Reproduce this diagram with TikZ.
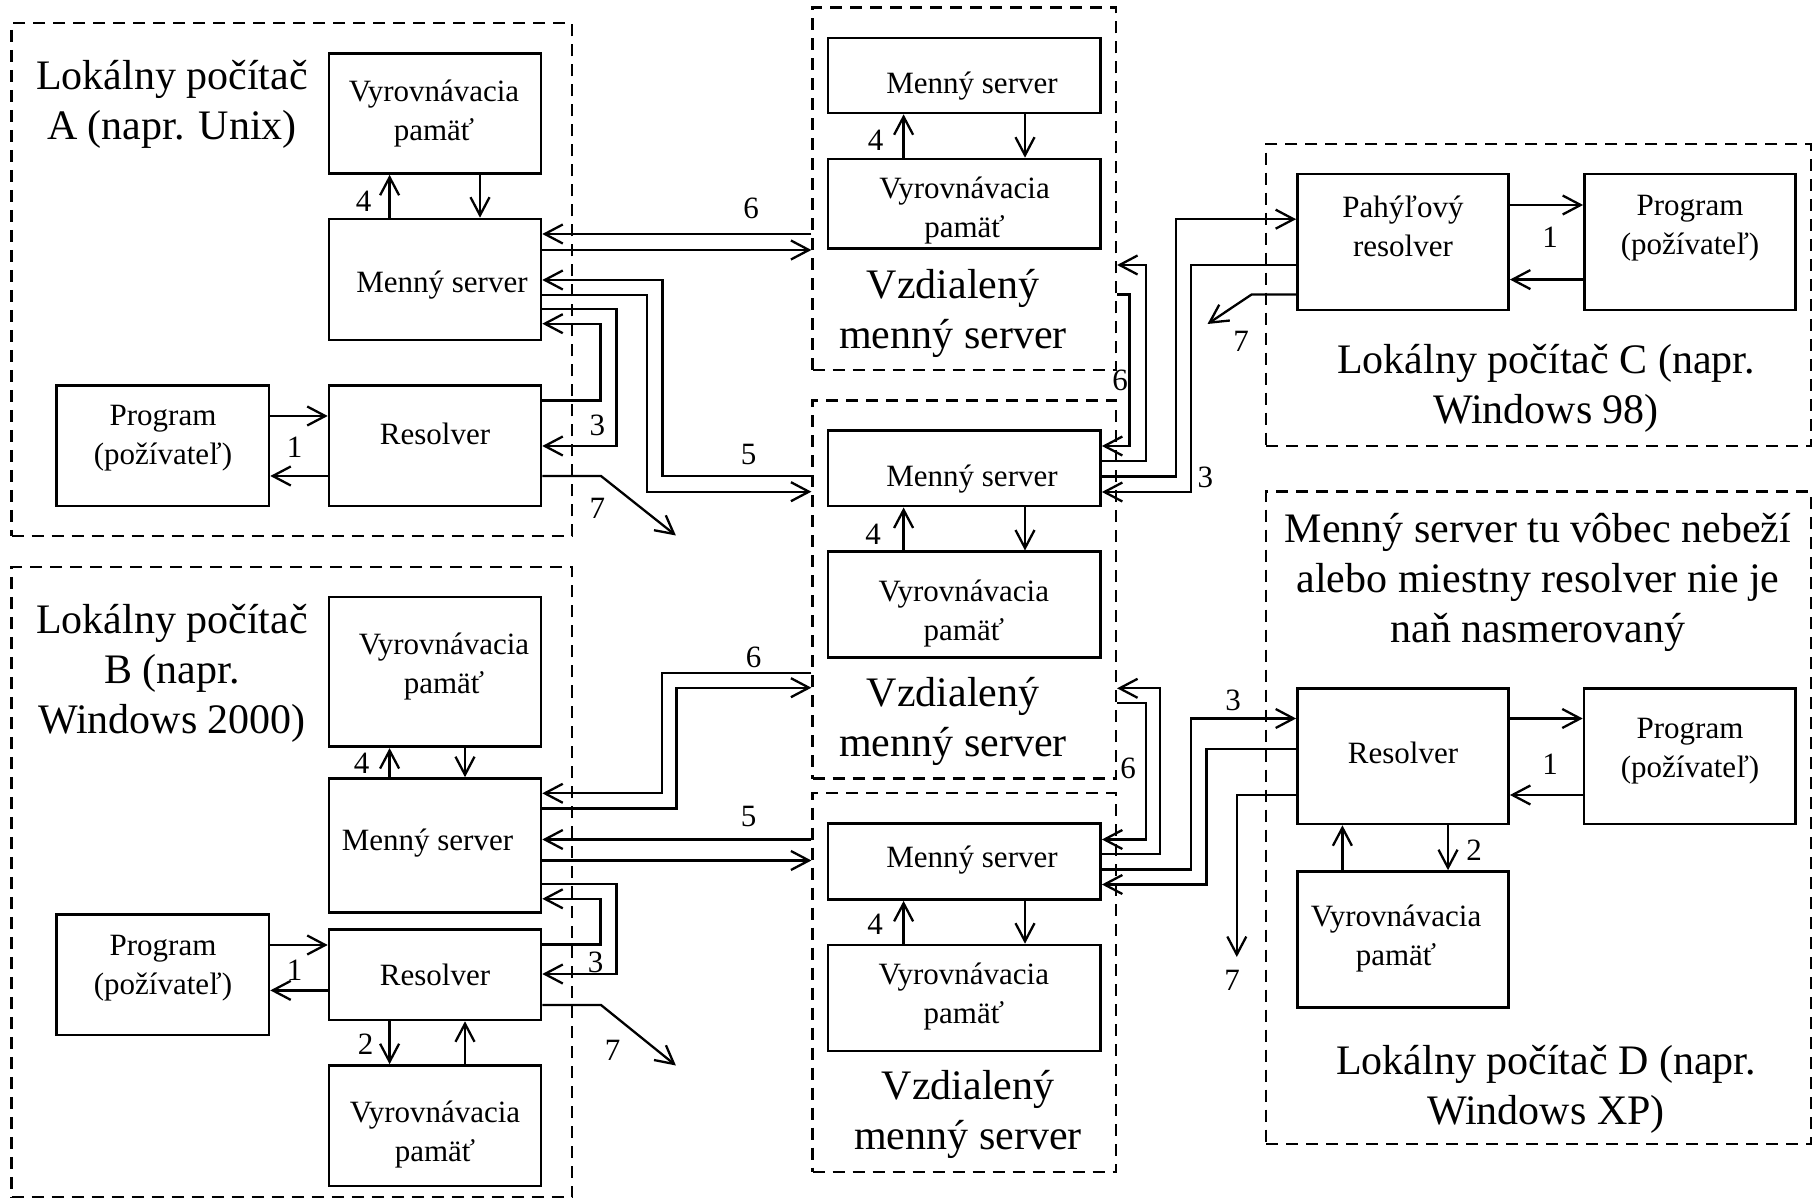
\documentclass[tikz,border=0pt]{standalone}
\usepackage{fontspec}
\setmainfont{Liberation Serif}
\usetikzlibrary{arrows.meta,fit}
\begin{document}
\begin{tikzpicture}[x=0.5pt,y=-0.5pt,
  box/.style={draw,line width=1.3pt,inner sep=0pt},
  grp/.style={draw,line width=1.1pt,dash pattern=on 6pt off 4pt,inner sep=0pt},
  arr/.style={line width=1.15pt,-{Straight Barb[length=9pt,width=9.5pt]}},
  small/.style={font=\fontsize{15.5pt}{19.5pt}\selectfont,align=center,inner sep=0pt},
  big/.style={font=\fontsize{21pt}{25pt}\selectfont,align=center,inner sep=0pt},
  num/.style={font=\fontsize{15.5pt}{18pt}\selectfont,inner sep=0pt},
]
\useasboundingbox (0,0) rectangle (1820,1202);

% ---------- dashed groups ----------
\node[grp,fit={(11.5,23.4) (572,536)}] (A) {};
\node[grp,fit={(11.5,567.4) (572,1197)}] (B) {};
\node[grp,fit={(812.5,7.6) (1116,370)}] (R1) {};
\node[grp,fit={(812.5,400.5) (1116,778.5)}] (R2) {};
\node[grp,fit={(812.5,793.3) (1116,1172)}] (R3) {};
\node[grp,fit={(1266,144) (1810.7,446)}] (C) {};
\node[grp,fit={(1266,491.5) (1810.7,1144)}] (D) {};

% ---------- computer A ----------
\node[box,fit={(329,53.4) (541,173.5)}] (cacheA) {};
\node[box,fit={(329,219) (541,340)}] (nsA) {};
\node[box,fit={(56.6,385.7) (269,506.2)}] (progA) {};
\node[box,fit={(329,385.7) (541,506.2)}] (resA) {};
\node[big] (titleA) at (172,104.75) {Lokálny počítač\\A (napr. Unix)};
\node[small] (tcacheA) at (434,114) {Vyrovnávacia\\pamäť};
\node[small,anchor=base] (tnsA) at (442,293) {Menný server};
\node[small] (tprogA) at (163,438) {Program\\(požívateľ)};
\node[small,anchor=base] (tresA) at (435,445) {Resolver};
\node[num] (n4A) at (363.6,201) {4};
\node[num] (n1A) at (294.7,447) {1};
\node[num] (n6A) at (751,208) {6};
\node[num] (n5A) at (748.6,454.5) {5};
\node[num] (n3A) at (597.4,425) {3};
\node[num] (n7A) at (597.4,508) {7};
\coordinate (end7A) at (675.9,535.5);

\draw[arr] (389.6,0 |- nsA.north) -- (389.6,0 |- cacheA.south);
\draw[arr] (480,0 |- cacheA.south) -- (480,0 |- nsA.north);
\draw[arr] (progA.east |- 0,416) -- (resA.west |- 0,416);
\draw[arr] (resA.west |- 0,476) -- (progA.east |- 0,476);
\draw[arr] (R1.west |- 0,234) -- (nsA.east |- 0,234);
\draw[arr] (nsA.east |- 0,250) -- (R1.west |- 0,250);
\draw[arr] (R2.west |- 0,476) -| (662.5,280) -- (nsA.east |- 0,280);
\draw[arr] (nsA.east |- 0,295) -| (647,491.7) -- (R2.west |- 0,491.7);
\draw[arr] (nsA.east |- 0,309) -| (616.5,446) -- (resA.east |- 0,446);
\draw[arr] (resA.east |- 0,400.5) -| (600.5,323.7) -- (nsA.east |- 0,323.7);
\draw[arr] (resA.east |- 0,476) -- (601,476) -- (end7A);

% ---------- remote name server 1 ----------
\node[box,fit={(827.8,37.9) (1100.6,113)}] (nsR1) {};
\node[box,fit={(827.8,159) (1100.6,248.6)}] (cacheR1) {};
\node[small,anchor=base] (tnsR1) at (972,93.7) {Menný server};
\node[small] (tcacheR1) at (964.5,210.5) {Vyrovnávacia\\pamäť};
\node[big] (titleR1) at (953,313.7) {Vzdialený\\menný server};
\node[num] (n4R1) at (875.5,140.5) {4};
\draw[arr] (903.6,0 |- cacheR1.north) -- (903.6,0 |- nsR1.south);
\draw[arr] (1025,0 |- nsR1.south) -- (1025,0 |- cacheR1.north);

% ---------- remote name server 2 ----------
\node[box,fit={(827.8,430.4) (1100.6,506.2)}] (nsR2) {};
\node[box,fit={(827.8,551.8) (1100.6,657.3)}] (cacheR2) {};
\node[small,anchor=base] (tnsR2) at (972,487) {Menný server};
\node[small] (tcacheR2) at (963.8,614) {Vyrovnávacia\\pamäť};
\node[big] (titleR2) at (953,721) {Vzdialený\\menný server};
\node[num] (n4R2) at (873,534) {4};
\draw[arr] (903.6,0 |- cacheR2.north) -- (903.6,0 |- nsR2.south);
\draw[arr] (1025,0 |- nsR2.south) -- (1025,0 |- cacheR2.north);

% ---------- remote name server 3 ----------
\node[box,fit={(827.8,823.7) (1100.6,899.6)}] (nsR3) {};
\node[box,fit={(827.8,945) (1100.6,1050.8)}] (cacheR3) {};
\node[small,anchor=base] (tnsR3) at (972,867) {Menný server};
\node[small] (tcacheR3) at (963.8,997) {Vyrovnávacia\\pamäť};
\node[big] (titleR3) at (968,1114.5) {Vzdialený\\menný server};
\node[num] (n4R3) at (875,924.5) {4};
\draw[arr] (903.6,0 |- cacheR3.north) -- (903.6,0 |- nsR3.south);
\draw[arr] (1025,0 |- nsR3.south) -- (1025,0 |- cacheR3.north);

% ---------- computer B ----------
\node[box,fit={(329,597) (541,746.8)}] (cacheB) {};
\node[box,fit={(329,778.5) (541,912.3)}] (nsB) {};
\node[box,fit={(56.6,914.4) (269,1035)}] (progB) {};
\node[box,fit={(329,929.2) (541,1020)}] (resB) {};
\node[box,fit={(329,1065.5) (541,1185.8)}] (cacheB2) {};
\node[big] (titleB) at (172,673.5) {Lokálny počítač\\B (napr.\\Windows 2000)};
\node[small] (tcacheB) at (444,666.5) {Vyrovnávacia\\pamäť};
\node[small,anchor=base] (tnsB) at (427.5,850) {Menný server};
\node[small] (tprogB) at (163,967.8) {Program\\(požívateľ)};
\node[small,anchor=base] (tresB) at (435,985) {Resolver};
\node[small] (tcacheB2) at (435,1134.5) {Vyrovnávacia\\pamäť};
\node[num] (n4B) at (361.6,763) {4};
\node[num] (n1B) at (294.7,970.6) {1};
\node[num] (n2B) at (365.5,1044.4) {2};
\node[num] (n6B) at (753.5,657.3) {6};
\node[num] (n5B) at (748.6,816.5) {5};
\node[num] (n3B) at (595.5,962) {3};
\node[num] (n7B) at (612.7,1050.8) {7};
\coordinate (end7B) at (675.9,1065.5);

\draw[arr] (389.6,0 |- nsB.north) -- (389.6,0 |- cacheB.south);
\draw[arr] (465,0 |- cacheB.south) -- (465,0 |- nsB.north);
\draw[arr] (progB.east |- 0,945) -- (resB.west |- 0,945);
\draw[arr] (resB.west |- 0,990.4) -- (progB.east |- 0,990.4);
\draw[arr] (389.6,0 |- resB.south) -- (389.6,0 |- cacheB2.north);
\draw[arr] (465,0 |- cacheB2.north) -- (465,0 |- resB.south);
\draw[arr] (R2.west |- 0,673) -| (661.7,793.3) -- (nsB.east |- 0,793.3);
\draw[arr] (nsB.east |- 0,808.5) -| (676.6,687.7) -- (R2.west |- 0,687.7);
\draw[arr] (R3.west |- 0,839.5) -- (nsB.east |- 0,839.5);
\draw[arr] (nsB.east |- 0,860.5) -- (R3.west |- 0,860.5);
\draw[arr] (nsB.east |- 0,884) -| (616.5,974) -- (resB.east |- 0,974);
\draw[arr] (resB.east |- 0,944.4) -| (600.5,898.8) -- (nsB.east |- 0,898.8);
\draw[arr] (resB.east |- 0,1005) -- (601,1005) -- (end7B);

% ---------- computer C ----------
\node[box,fit={(1297.4,174) (1508.6,310)}] (stub) {};
\node[box,fit={(1584.4,174) (1795.6,310)}] (progC) {};
\node[small] (tstub) at (1403,226) {Pahýľový\\resolver};
\node[small] (tprogC) at (1690,228) {Program\\(požívateľ)};
\node[big] (titleC) at (1546,388.6) {Lokálny počítač C (napr.\\Windows 98)};
\node[num] (n1C) at (1550,237.6) {1};
\node[num] (n7C) at (1241,341.5) {7};
\node[num] (n3C) at (1205.3,477) {3};
\node[num] (n6C) at (1120,380.3) {6};
\coordinate (end7C) at (1207.5,324);

\draw[arr] (stub.east |- 0,205) -- (progC.west |- 0,205);
\draw[arr] (progC.west |- 0,279.6) -- (stub.east |- 0,279.6);
\draw[arr] (nsR2.east |- 0,460.7) -| (1146,265) -- (R1.east |- 0,265);
\draw[arr] (R1.east |- 0,294.4) -| (1129.5,446) -- (nsR2.east |- 0,446);
\draw[arr] (nsR2.east |- 0,476.5) -| (1176.3,219.2) -- (stub.west |- 0,219.2);
\draw[arr] (stub.west |- 0,265) -| (1191.3,492) -- (nsR2.east |- 0,492);
\draw[arr] (stub.west |- 0,294.5) -- (1251.6,294.5) -- (end7C);

% ---------- computer D ----------
\node[box,fit={(1297.4,688.3) (1508.6,824)}] (resD) {};
\node[box,fit={(1584,688.3) (1795.6,824)}] (progD) {};
\node[box,fit={(1297.4,871.5) (1508.6,1007.5)}] (cacheD) {};
\node[big] (noteD) at (1538,582.7) {Menný server tu vôbec nebeží\\alebo miestny resolver nie je\\naň nasmerovaný};
\node[small,anchor=base] (tresD) at (1403,763) {Resolver};
\node[small] (tprogD) at (1690,751) {Program\\(požívateľ)};
\node[small] (tcacheD) at (1396,938.5) {Vyrovnávacia\\pamäť};
\node[big] (titleD) at (1546,1089.5) {Lokálny počítač D (napr.\\Windows XP)};
\node[num] (n1D) at (1550,764.5) {1};
\node[num] (n2D) at (1474,850) {2};
\node[num] (n3D) at (1233,700) {3};
\node[num] (n6D) at (1128,768.5) {6};
\node[num] (n7D) at (1232,980.5) {7};
\coordinate (end7D) at (1236.8,957);

\draw[arr] (resD.east |- 0,718.5) -- (progD.west |- 0,718.5);
\draw[arr] (progD.west |- 0,795) -- (resD.east |- 0,795);
\draw[arr] (1342.4,0 |- cacheD.north) -- (1342.4,0 |- resD.south);
\draw[arr] (1448,0 |- resD.south) -- (1448,0 |- cacheD.north);
\draw[arr] (nsR3.east |- 0,854) -| (1160,688.3) -- (R2.east |- 0,688.3);
\draw[arr] (R2.east |- 0,703) -| (1146,839.5) -- (nsR3.east |- 0,839.5);
\draw[arr] (nsR3.east |- 0,869.5) -| (1191.3,718.5) -- (resD.west |- 0,718.5);
\draw[arr] (resD.west |- 0,749) -| (1206.5,884.5) -- (nsR3.east |- 0,884.5);
\draw[arr] (resD.west |- 0,795) -| (end7D);
\end{tikzpicture}
\end{document}
